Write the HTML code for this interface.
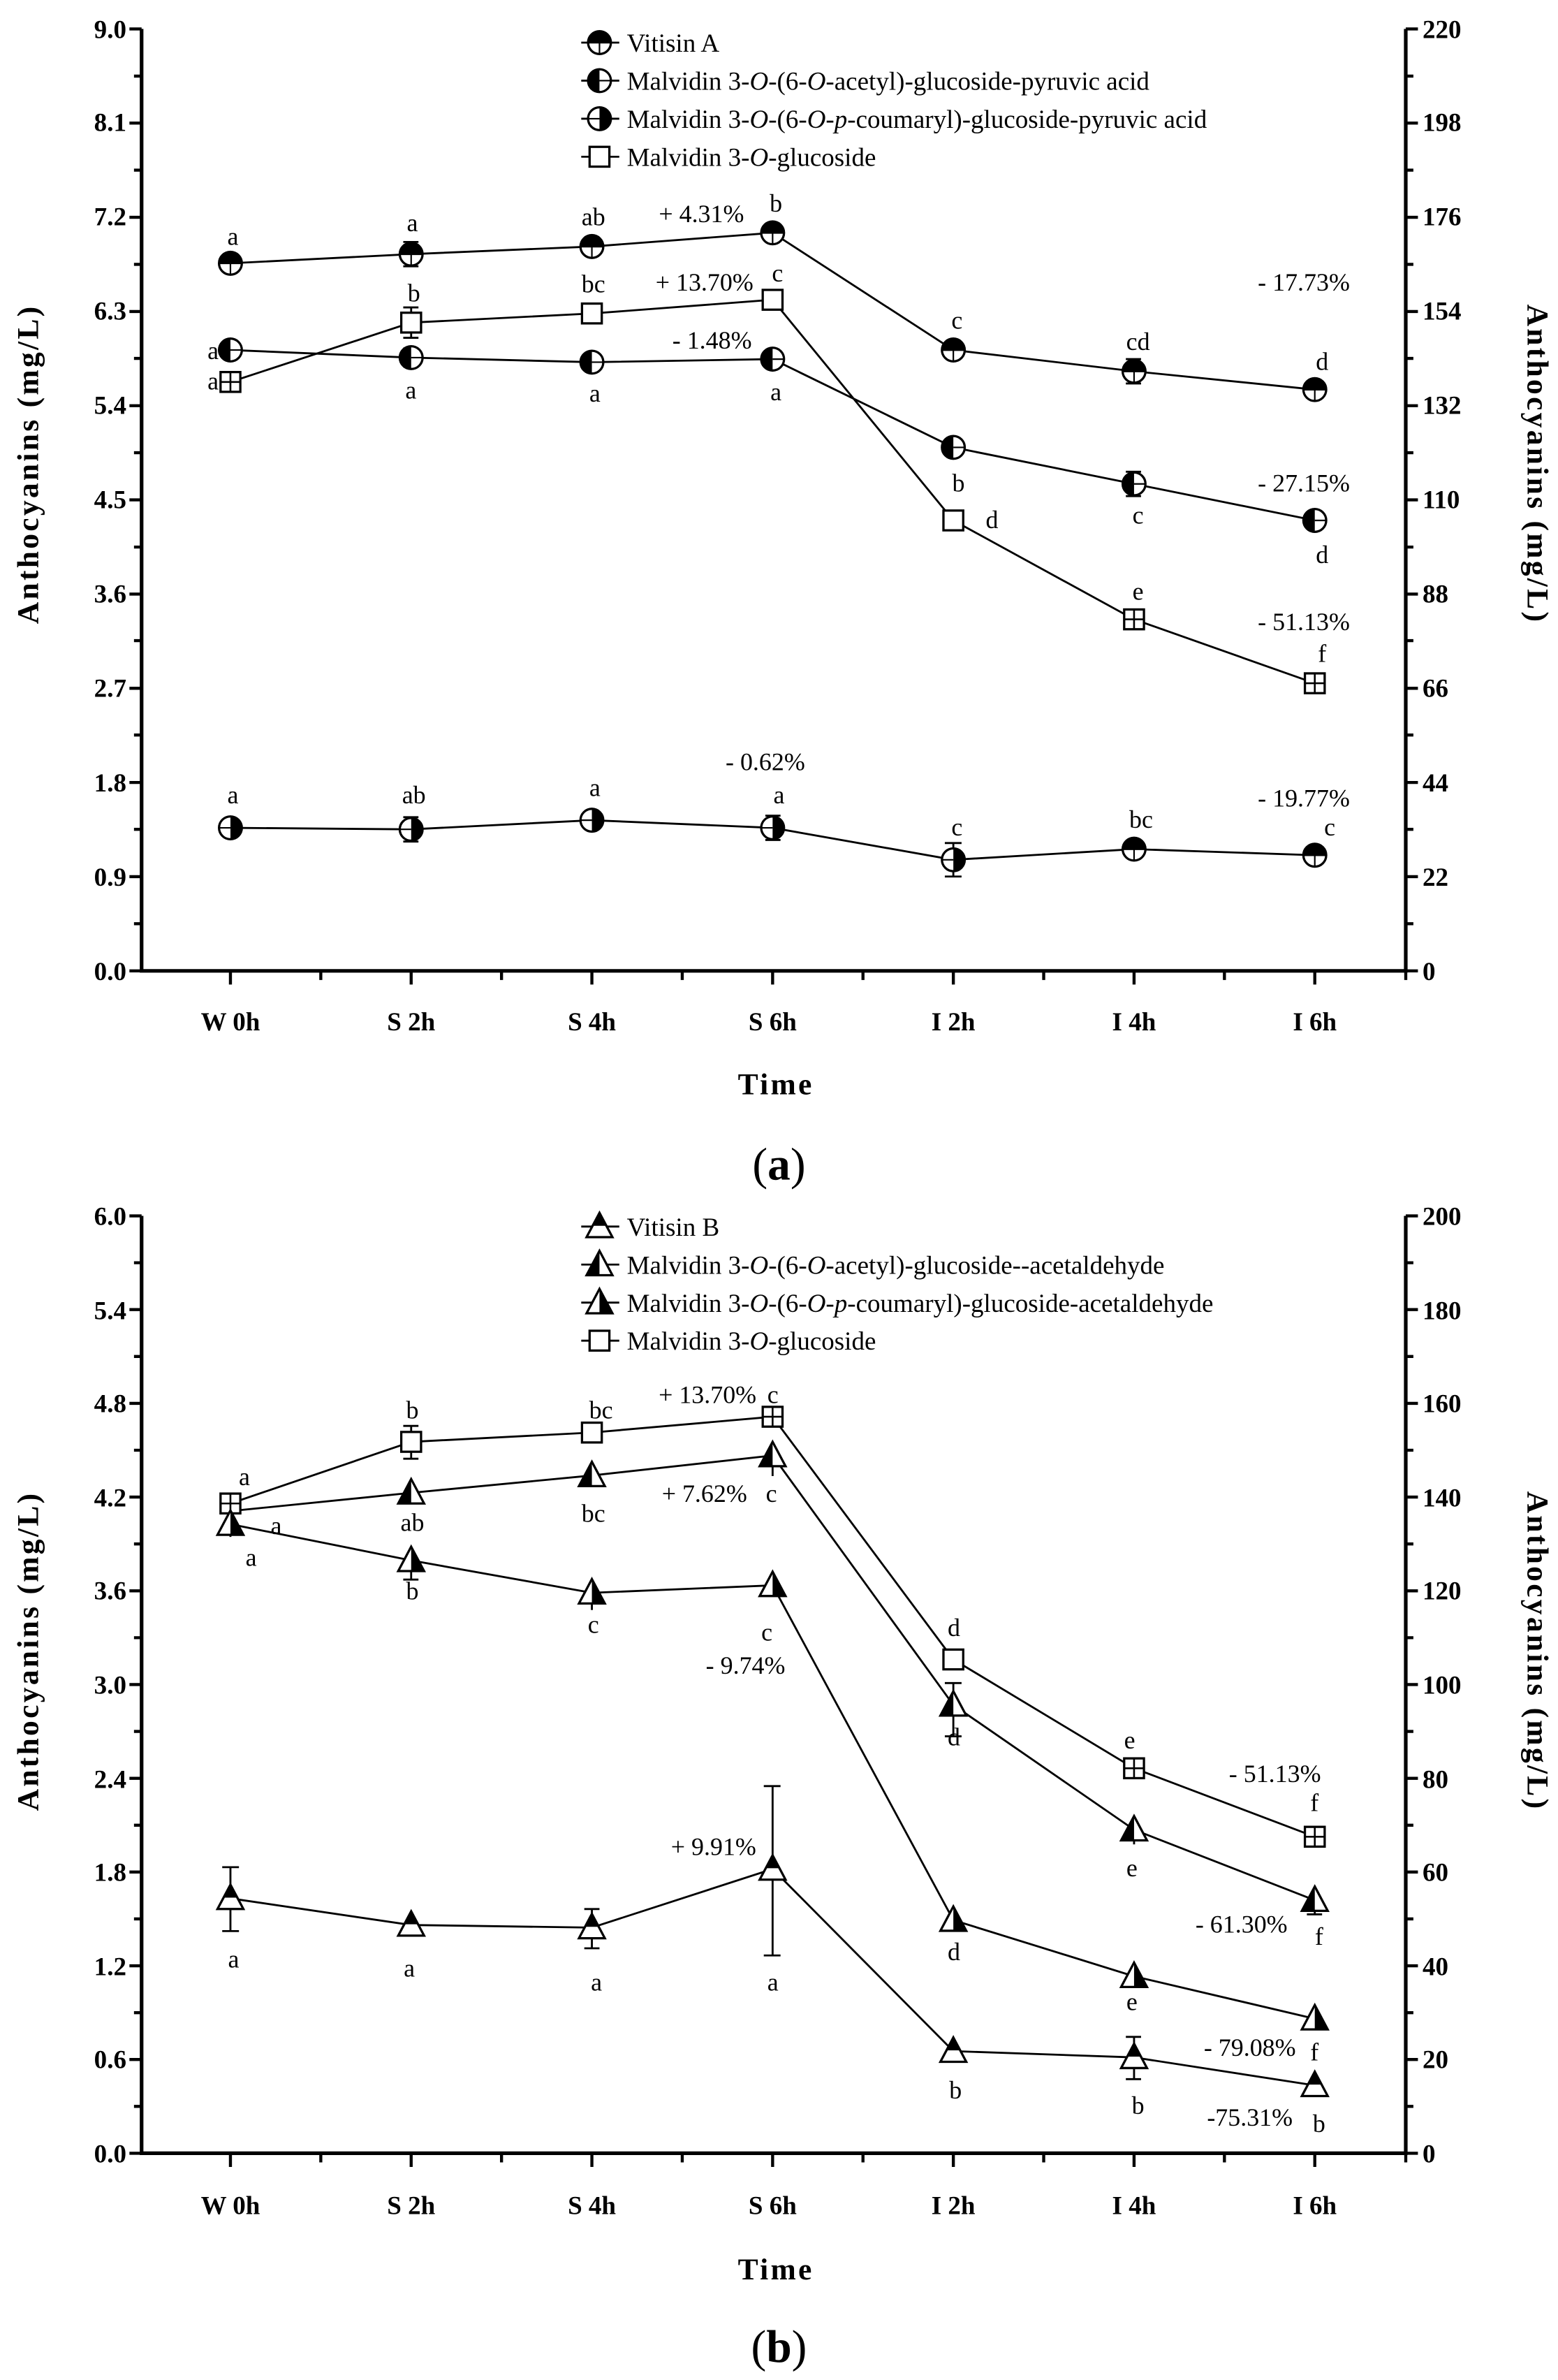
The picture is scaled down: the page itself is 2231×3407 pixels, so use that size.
<!DOCTYPE html>
<html><head><meta charset="utf-8"><style>
html,body{margin:0;padding:0;background:#fff}
svg{display:block}
text{font-family:"Liberation Serif",serif;fill:#000}
.t{font-size:17px;font-weight:bold}
.l{font-size:17px}
.s{font-size:16.5px}
.ax{font-size:20px;font-weight:bold;letter-spacing:1.5px}
</style></head><body>
<svg width="2231" height="3407" viewBox="0 0 1024 1564" xmlns="http://www.w3.org/2000/svg">
<defs>
<g id="cT"><circle r="7.5" fill="#fff" stroke="#000" stroke-width="1.5"/><path d="M-7.5,0 A7.5,7.5 0 0 1 7.5,0Z" fill="#000"/><line x1="-7.5" y1="0" x2="7.5" y2="0" stroke="#000" stroke-width="1.2"/><line x1="0" y1="0" x2="0" y2="7.5" stroke="#000" stroke-width="1"/></g>
<g id="cL"><circle r="7.5" fill="#fff" stroke="#000" stroke-width="1.5"/><path d="M0,-7.5 A7.5,7.5 0 0 0 0,7.5Z" fill="#000"/><line x1="0" y1="0" x2="7.5" y2="0" stroke="#000" stroke-width="1"/></g>
<g id="cR"><circle r="7.5" fill="#fff" stroke="#000" stroke-width="1.5"/><path d="M0,-7.5 A7.5,7.5 0 0 1 0,7.5Z" fill="#000"/><line x1="-7.5" y1="0" x2="0" y2="0" stroke="#000" stroke-width="1"/></g>
<g id="sq"><rect x="-6.5" y="-6.5" width="13" height="13" fill="#fff" stroke="#000" stroke-width="1.5"/></g>
<g id="sqx"><rect x="-6.5" y="-6.5" width="13" height="13" fill="#fff" stroke="#000" stroke-width="1.5"/><path d="M-6.5,0H6.5M0,-6.5V6.5" stroke="#000" stroke-width="1.2"/></g>
<g id="tT"><path d="M0,-9 L8.5,7 L-8.5,7Z" fill="#fff" stroke="#000" stroke-width="1.5"/><path d="M0,-9 L4.5,-0.5 L-4.5,-0.5Z" fill="#000"/></g>
<g id="tL"><path d="M0,-9 L8.5,7 L-8.5,7Z" fill="#fff" stroke="#000" stroke-width="1.5"/><path d="M0,-9 L0,7 L-8.5,7Z" fill="#000"/></g>
<g id="tR"><path d="M0,-9 L8.5,7 L-8.5,7Z" fill="#fff" stroke="#000" stroke-width="1.5"/><path d="M0,-9 L8.5,7 L0,7Z" fill="#000"/></g>
</defs>

<!-- ================= PANEL A ================= -->
<g stroke="#000" fill="none">
<path d="M93,19 V638 H924 V19" stroke-width="2.4"/>
<path stroke-width="2" d="M85,638H93M85,576.1H93M85,514.2H93M85,452.3H93M85,390.4H93M85,328.5H93M85,266.6H93M85,204.7H93M85,142.8H93M85,80.9H93M85,19H93
M88,607H93M88,545H93M88,483H93M88,421H93M88,359.5H93M88,297.5H93M88,235.5H93M88,173.7H93M88,111.8H93M88,50H93"/>
<path stroke-width="2" d="M924,638H932M924,576.1H932M924,514.2H932M924,452.3H932M924,390.4H932M924,328.5H932M924,266.6H932M924,204.7H932M924,142.8H932M924,80.9H932M924,19H932
M924,607H929M924,545H929M924,483H929M924,421H929M924,359.5H929M924,297.5H929M924,235.5H929M924,173.7H929M924,111.8H929M924,50H929"/>
<path stroke-width="2" d="M151.4,638V647M270.2,638V647M389,638V647M507.8,638V647M626.6,638V647M745.4,638V647M864.2,638V647M210.8,638V644M329.6,638V644M448.4,638V644M567.2,638V644M686,638V644M804.8,638V644M924,638V644"/>
</g>
<g class="t" text-anchor="end">
<text x="83" y="644">0.0</text><text x="83" y="582">0.9</text><text x="83" y="520">1.8</text><text x="83" y="458">2.7</text><text x="83" y="396">3.6</text><text x="83" y="334">4.5</text><text x="83" y="272">5.4</text><text x="83" y="210">6.3</text><text x="83" y="148">7.2</text><text x="83" y="86">8.1</text><text x="83" y="25">9.0</text>
</g>
<g class="t">
<text x="935" y="644">0</text><text x="935" y="582">22</text><text x="935" y="520">44</text><text x="935" y="458">66</text><text x="935" y="396">88</text><text x="935" y="334">110</text><text x="935" y="272">132</text><text x="935" y="210">154</text><text x="935" y="148">176</text><text x="935" y="86">198</text><text x="935" y="25">220</text>
</g>
<g class="t" text-anchor="middle">
<text x="151.4" y="677">W 0h</text><text x="270.2" y="677">S 2h</text><text x="389" y="677">S 4h</text><text x="507.8" y="677">S 6h</text><text x="626.6" y="677">I 2h</text><text x="745.4" y="677">I 4h</text><text x="864.2" y="677">I 6h</text>
</g>
<text class="ax" x="510" y="719" text-anchor="middle">Time</text>
<text class="ax" transform="translate(25,305) rotate(-90)" text-anchor="middle">Anthocyanins  (mg/L)</text>
<text class="ax" transform="translate(1004,305) rotate(90)" text-anchor="middle">Anthocyanins  (mg/L)</text>
<text x="512" y="775" text-anchor="middle" style="font-size:30px">(<tspan font-weight="bold">a</tspan>)</text>

<g stroke="#000" stroke-width="1.3"><path d="M382,28H407M382,53H407M382,78H407M382,103H407"/></g>
<use href="#cT" x="394" y="28"/><use href="#cL" x="394" y="53"/><use href="#cR" x="394" y="78"/><use href="#sq" x="394" y="103"/>
<g class="l">
<text x="412" y="34">Vitisin A</text>
<text x="412" y="59">Malvidin 3-<tspan font-style="italic">O</tspan>-(6-<tspan font-style="italic">O</tspan>-acetyl)-glucoside-pyruvic acid</text>
<text x="412" y="84">Malvidin 3-<tspan font-style="italic">O</tspan>-(6-<tspan font-style="italic">O</tspan>-<tspan font-style="italic">p</tspan>-coumaryl)-glucoside-pyruvic acid</text>
<text x="412" y="109">Malvidin 3-<tspan font-style="italic">O</tspan>-glucoside</text>
</g>

<g stroke="#000" stroke-width="1.3" fill="none">
<polyline points="151.4,173 270.2,167 389,162 507.8,153 626.6,230 745.4,244 864.2,256"/>
<polyline points="151.4,230 270.2,235 389,238 507.8,236 626.6,294 745.4,318 864.2,342"/>
<polyline points="151.4,251 270.2,212 389,206 507.8,197 626.6,342 745.4,407 864.2,449"/>
<polyline points="151.4,544 270.2,545 389,539 507.8,544 626.6,565 745.4,558 864.2,562"/>
<path d="M270.2,159V175M265,159H275M265,175H275 M270.2,202V222M265,202H275M265,222H275 M270.2,229V241M265,229H275M265,241H275 M745.4,236V252M740,236H750M740,252H750 M745.4,310V326M740,310H750M740,326H750 M626.6,554V576M621,554H632M621,576H632 M270.2,537V553M265,537H275M265,553H275 M507.8,536V552M503,536H513M503,552H513"/>
</g>
<use href="#cT" x="151.4" y="173"/><use href="#cT" x="270.2" y="167"/><use href="#cT" x="389" y="162"/><use href="#cT" x="507.8" y="153"/><use href="#cT" x="626.6" y="230"/><use href="#cT" x="745.4" y="244"/><use href="#cT" x="864.2" y="256"/>
<use href="#cL" x="151.4" y="230"/><use href="#cL" x="270.2" y="235"/><use href="#cL" x="389" y="238"/><use href="#cL" x="507.8" y="236"/><use href="#cL" x="626.6" y="294"/><use href="#cL" x="745.4" y="318"/><use href="#cL" x="864.2" y="342"/>
<use href="#sqx" x="151.4" y="251"/><use href="#sq" x="270.2" y="212"/><use href="#sq" x="389" y="206"/><use href="#sq" x="507.8" y="197"/><use href="#sq" x="626.6" y="342"/><use href="#sqx" x="745.4" y="407"/><use href="#sqx" x="864.2" y="449"/>
<use href="#cR" x="151.4" y="544"/><use href="#cR" x="270.2" y="545"/><use href="#cR" x="389" y="539"/><use href="#cR" x="507.8" y="544"/><use href="#cR" x="626.6" y="565"/><use href="#cT" x="745.4" y="558"/><use href="#cT" x="864.2" y="562"/>

<g class="s" text-anchor="middle">
<text x="153" y="161">a</text><text x="271" y="152">a</text><text x="390" y="148">ab</text><text x="510" y="139">b</text><text x="629" y="216">c</text><text x="748" y="230">cd</text><text x="869" y="243">d</text>
<text x="140" y="236">a</text><text x="270" y="262">a</text><text x="391" y="264">a</text><text x="510" y="263">a</text><text x="630" y="323">b</text><text x="748" y="344">c</text><text x="869" y="370">d</text>
<text x="140" y="256">a</text><text x="272" y="198">b</text><text x="390" y="192">bc</text><text x="511" y="185">c</text><text x="652" y="347">d</text><text x="748" y="394">e</text><text x="869" y="435">f</text>
<text x="153" y="528">a</text><text x="272" y="528">ab</text><text x="391" y="523">a</text><text x="512" y="528">a</text><text x="629" y="549">c</text><text x="750" y="544">bc</text><text x="874" y="549">c</text>
<text x="461" y="146">+ 4.31%</text><text x="463" y="191">+ 13.70%</text><text x="468" y="229">- 1.48%</text><text x="503" y="506">- 0.62%</text>
<text x="857" y="191">- 17.73%</text><text x="857" y="323">- 27.15%</text><text x="857" y="414">- 51.13%</text><text x="857" y="530">- 19.77%</text>
</g>

<!-- ================= PANEL B ================= -->
<g stroke="#000" fill="none">
<path d="M93,799 V1415 H924 V799" stroke-width="2.4"/>
<path stroke-width="2" d="M85,1415H93M85,1353.4H93M85,1291.8H93M85,1230.2H93M85,1168.6H93M85,1107H93M85,1045.4H93M85,983.8H93M85,922.2H93M85,860.6H93M85,799H93
M88,1384.2H93M88,1322.6H93M88,1261H93M88,1199.4H93M88,1137.8H93M88,1076.2H93M88,1014.6H93M88,953H93M88,891.4H93M88,829.8H93"/>
<path stroke-width="2" d="M924,1415H932M924,1353.4H932M924,1291.8H932M924,1230.2H932M924,1168.6H932M924,1107H932M924,1045.4H932M924,983.8H932M924,922.2H932M924,860.6H932M924,799H932
M924,1384.2H929M924,1322.6H929M924,1261H929M924,1199.4H929M924,1137.8H929M924,1076.2H929M924,1014.6H929M924,953H929M924,891.4H929M924,829.8H929"/>
<path stroke-width="2" d="M151.4,1415V1424M270.2,1415V1424M389,1415V1424M507.8,1415V1424M626.6,1415V1424M745.4,1415V1424M864.2,1415V1424M210.8,1415V1421M329.6,1415V1421M448.4,1415V1421M567.2,1415V1421M686,1415V1421M804.8,1415V1421M924,1415V1421"/>
</g>
<g class="t" text-anchor="end">
<text x="83" y="1421">0.0</text><text x="83" y="1359">0.6</text><text x="83" y="1298">1.2</text><text x="83" y="1236">1.8</text><text x="83" y="1175">2.4</text><text x="83" y="1113">3.0</text><text x="83" y="1051">3.6</text><text x="83" y="990">4.2</text><text x="83" y="928">4.8</text><text x="83" y="867">5.4</text><text x="83" y="805">6.0</text>
</g>
<g class="t">
<text x="935" y="1421">0</text><text x="935" y="1359">20</text><text x="935" y="1298">40</text><text x="935" y="1236">60</text><text x="935" y="1175">80</text><text x="935" y="1113">100</text><text x="935" y="1051">120</text><text x="935" y="990">140</text><text x="935" y="928">160</text><text x="935" y="867">180</text><text x="935" y="805">200</text>
</g>
<g class="t" text-anchor="middle">
<text x="151.4" y="1455">W 0h</text><text x="270.2" y="1455">S 2h</text><text x="389" y="1455">S 4h</text><text x="507.8" y="1455">S 6h</text><text x="626.6" y="1455">I 2h</text><text x="745.4" y="1455">I 4h</text><text x="864.2" y="1455">I 6h</text>
</g>
<text class="ax" x="510" y="1498" text-anchor="middle">Time</text>
<text class="ax" transform="translate(25,1085) rotate(-90)" text-anchor="middle">Anthocyanins  (mg/L)</text>
<text class="ax" transform="translate(1004,1085) rotate(90)" text-anchor="middle">Anthocyanins  (mg/L)</text>
<text x="512" y="1552" text-anchor="middle" style="font-size:30px">(<tspan font-weight="bold">b</tspan>)</text>

<g stroke="#000" stroke-width="1.3"><path d="M382,806H407M382,831H407M382,856H407M382,881H407"/></g>
<use href="#tT" x="394" y="806"/><use href="#tL" x="394" y="831"/><use href="#tR" x="394" y="856"/><use href="#sq" x="394" y="881"/>
<g class="l">
<text x="412" y="812">Vitisin B</text>
<text x="412" y="837">Malvidin 3-<tspan font-style="italic">O</tspan>-(6-<tspan font-style="italic">O</tspan>-acetyl)-glucoside--acetaldehyde</text>
<text x="412" y="862">Malvidin 3-<tspan font-style="italic">O</tspan>-(6-<tspan font-style="italic">O</tspan>-<tspan font-style="italic">p</tspan>-coumaryl)-glucoside-acetaldehyde</text>
<text x="412" y="887">Malvidin 3-<tspan font-style="italic">O</tspan>-glucoside</text>
</g>

<g stroke="#000" stroke-width="1.3" fill="none">
<polyline points="151.4,988 270.2,947.5 389,941.4 507.8,931 626.6,1090.5 745.4,1162 864.2,1207"/>
<polyline points="151.4,993 270.2,981 389,969.6 507.8,956.5 626.6,1120.4 745.4,1202.4 864.2,1248.7"/>
<polyline points="151.4,1001.6 270.2,1025.4 389,1046.7 507.8,1041.8 626.6,1261.8 745.4,1298.7 864.2,1326.6"/>
<polyline points="151.4,1247.5 270.2,1265 389,1266.7 507.8,1228.2 626.6,1347.9 745.4,1352 864.2,1370.4"/>
<path d="M270.2,937V958.6M265,937H275M265,958.6H275 M151.4,1227V1269M146,1227H157M146,1269H157 M389,1254.5V1280.3M384,1254.5H394M384,1280.3H394 M507.8,1173.7V1285M502,1173.7H513M502,1285H513 M626.6,1106V1141M621,1106H632M621,1141H632 M745.4,1338.5V1366.3M740,1338.5H750M740,1366.3H750 M389,1041V1058 M270.2,1030V1038M265,1038H275 M151.4,995V1010 M507.8,960V970 M864.2,1250V1258M859,1258H869 M745.4,1205V1212"/>
</g>
<use href="#sqx" x="151.4" y="988"/><use href="#sq" x="270.2" y="947.5"/><use href="#sq" x="389" y="941.4"/><use href="#sqx" x="507.8" y="931"/><use href="#sq" x="626.6" y="1090.5"/><use href="#sqx" x="745.4" y="1162"/><use href="#sqx" x="864.2" y="1207"/>
<use href="#tL" x="270.2" y="981"/><use href="#tL" x="389" y="969.6"/><use href="#tL" x="507.8" y="956.5"/><use href="#tL" x="626.6" y="1120.4"/><use href="#tL" x="745.4" y="1202.4"/><use href="#tL" x="864.2" y="1248.7"/>
<use href="#tR" x="151.4" y="1001.6"/><use href="#tR" x="270.2" y="1025.4"/><use href="#tR" x="389" y="1046.7"/><use href="#tR" x="507.8" y="1041.8"/><use href="#tR" x="626.6" y="1261.8"/><use href="#tR" x="745.4" y="1298.7"/><use href="#tR" x="864.2" y="1326.6"/>
<use href="#tT" x="151.4" y="1247.5"/><use href="#tT" x="270.2" y="1265"/><use href="#tT" x="389" y="1266.7"/><use href="#tT" x="507.8" y="1228.2"/><use href="#tT" x="626.6" y="1347.9"/><use href="#tT" x="745.4" y="1352"/><use href="#tT" x="864.2" y="1370.4"/>

<g class="s" text-anchor="middle">
<text x="160.6" y="976">a</text><text x="181.5" y="1008">a</text><text x="165" y="1029">a</text>
<text x="271" y="932">b</text><text x="271" y="1006">ab</text><text x="271" y="1051">b</text>
<text x="395" y="932">bc</text><text x="390" y="1000">bc</text><text x="390" y="1073">c</text>
<text x="465" y="922">+ 13.70%</text><text x="508" y="922">c</text>
<text x="463" y="987">+ 7.62%</text><text x="507" y="987">c</text>
<text x="504" y="1078">c</text><text x="490" y="1100">- 9.74%</text>
<text x="627" y="1075">d</text><text x="627" y="1147">d</text>
<text x="742.5" y="1149">e</text><text x="838" y="1171">- 51.13%</text><text x="864" y="1190">f</text>
<text x="744" y="1233">e</text><text x="816" y="1270">- 61.30%</text><text x="867" y="1278">f</text>
<text x="469" y="1219">+ 9.91%</text>
<text x="153.5" y="1293">a</text><text x="269" y="1299">a</text><text x="392" y="1308">a</text><text x="508" y="1308">a</text>
<text x="627" y="1288">d</text><text x="744" y="1321">e</text><text x="821.5" y="1351">- 79.08%</text><text x="864" y="1354">f</text>
<text x="628" y="1379">b</text><text x="748" y="1389">b</text><text x="821.5" y="1397">-75.31%</text><text x="867" y="1401">b</text>
</g>
</svg>
</body></html>
